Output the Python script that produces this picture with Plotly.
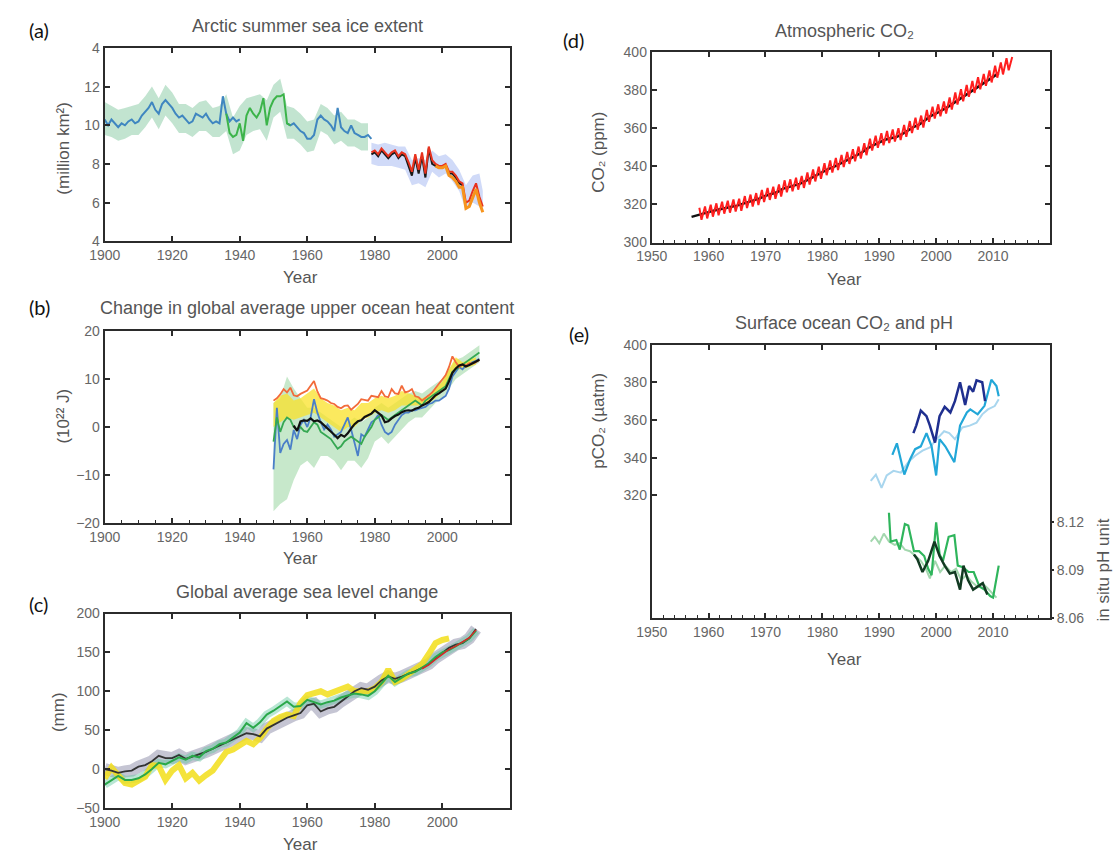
import plotly.graph_objects as go

W, H = 1113, 862
FONT = "Liberation Sans, Arial, sans-serif"
LETTER_FONT = "Lato, Noto Sans, sans-serif"
TICK_C = "#666666"
TITLE_C = "#555555"
AX_C = "#2b2b2b"

# ---------------- (a) Arctic summer sea ice extent ----------------
ice_years_early = list(range(1900, 1941))
ice_blue_early = [10.3, 10.0, 10.3, 10.1, 9.9, 10.1, 10.0, 10.2, 10.3, 10.1,
                  10.2, 10.5, 10.7, 10.9, 11.2, 10.8, 10.6, 11.1, 11.3, 11.1,
                  10.9, 10.6, 10.4, 10.5, 10.3, 10.1, 10.2, 10.6, 10.5, 10.4,
                  10.6, 10.3, 10.1, 10.2, 10.1, 11.5, 10.6, 10.2, 10.4, 10.2,
                  10.3]
ice_green_years = list(range(1936, 1956))
ice_green = [10.6, 9.6, 9.4, 9.5, 10.1, 9.2, 10.5, 10.9, 10.6, 10.4,
             10.7, 11.4, 10.0, 10.9, 11.3, 11.5, 11.5, 11.6, 10.1, 10.0]
ice_years_late = list(range(1954, 1980))
ice_blue_late = [10.1, 10.0, 10.1, 9.9, 9.7, 9.6, 9.3, 9.3, 9.5, 10.3,
                 10.5, 10.3, 10.2, 10.0, 9.7, 10.9, 9.9, 9.7, 9.6, 10.0,
                 9.6, 9.5, 9.4, 9.4, 9.5, 9.3]
ice_band_years = list(range(1900, 1980, 2))
ice_band_hi = [11.2, 11.0, 10.8, 10.9, 11.0, 11.1, 11.5, 12.0, 11.4, 12.1,
               11.7, 11.1, 11.1, 10.9, 11.2, 11.3, 10.9, 11.0, 11.6, 10.4,
               11.0, 11.4, 11.5, 11.6, 11.3, 12.1, 12.4, 11.0, 10.9, 10.6,
               10.2, 10.3, 11.1, 10.9, 10.5, 10.7, 10.3, 10.3, 10.1, 10.1]
ice_band_lo = [9.5, 9.4, 9.2, 9.3, 9.5, 9.5, 9.9, 10.4, 9.8, 10.5,
               10.1, 9.6, 9.6, 9.4, 9.7, 9.7, 9.4, 9.4, 9.7, 8.5,
               8.7, 9.5, 9.7, 9.8, 9.2, 10.4, 10.7, 9.3, 9.3, 9.0,
               8.6, 8.7, 9.7, 9.5, 9.0, 9.2, 8.9, 8.9, 8.7, 8.7]
ice_sat_years = list(range(1979, 2013))
ice_red = [8.6, 8.7, 8.5, 8.8, 8.6, 8.4, 8.6, 8.7, 8.4, 8.6,
           8.5, 8.1, 7.6, 8.5, 7.7, 8.6, 7.5, 8.9, 8.2, 8.0,
           7.9, 7.9, 8.0, 7.6, 7.6, 7.4, 7.1, 7.0, 6.0, 6.1,
           6.6, 7.0, 6.3, 5.8]
ice_black_years = list(range(1979, 2007))
ice_black = [8.5, 8.6, 8.4, 8.7, 8.5, 8.3, 8.5, 8.6, 8.3, 8.5,
             8.4, 7.9, 7.4, 8.3, 7.5, 8.4, 7.3, 8.8, 8.0, 7.9,
             7.8, 7.8, 7.9, 7.5, 7.5, 7.3, 7.0, 6.9]
ice_orange_years = list(range(1998, 2013))
ice_orange = [7.9, 7.8, 7.8, 7.9, 7.4, 7.3, 7.1, 6.8, 6.8, 5.7, 5.8, 6.3, 6.7, 6.0, 5.5]
ice_sat_band_years = list(range(1979, 2012, 2)) + [2012]
ice_sat_hi = [9.1, 9.0, 9.1, 9.0, 8.9, 8.9, 8.2, 8.3, 8.2, 8.7, 8.4, 8.5, 8.2, 7.7, 6.9, 7.4, 7.5, 6.6]
ice_sat_lo = [8.0, 7.9, 7.9, 7.9, 7.8, 7.7, 6.9, 7.0, 6.8, 7.6, 7.3, 7.5, 7.1, 6.6, 5.6, 6.0, 5.8, 5.5]

# ---------------- (b) Upper ocean heat content ----------------
ohc_years = list(range(1950, 2012))
ohc_orange = [5.5, 6.0, 6.8, 7.9, 7.2, 8.2, 6.6, 6.4, 6.9, 7.2,
              7.6, 8.6, 9.6, 7.4, 6.0, 5.8, 5.5, 5.0, 4.8, 4.2,
              3.9, 4.4, 4.5, 3.6, 4.2, 4.8, 5.8, 5.6, 5.5, 6.5,
              6.3, 6.2, 7.5, 6.4, 6.2, 7.9, 7.0, 6.9, 8.6, 7.2,
              7.4, 7.9, 6.4, 6.2, 5.5, 6.0, 6.6, 7.2, 8.2, 9.0,
              9.9, 10.8, 12.5, 14.7, 13.5, 12.5, 13.0, 12.8, 13.3, 13.2,
              13.5, 14.0]
ohc_black_years = list(range(1956, 2012))
ohc_black = [0.3, -0.8, 1.2, 1.4, 1.3, 1.8, 1.2, 1.4, 1.0, 0.4,
             -0.3, -0.8, -1.6, -2.3, -1.6, -2.0, -1.3, -0.3, 0.6, 1.2,
             1.4, 2.1, 2.4, 2.8, 3.5, 3.0, 2.4, 1.0, 1.2, 1.8,
             2.3, 2.6, 3.1, 3.4, 3.5, 3.4, 3.8, 4.0, 4.5, 4.8,
             5.2, 5.9, 6.6, 7.0, 7.5, 8.0, 9.5, 11.3, 12.2, 12.8,
             13.0, 12.6, 12.9, 13.3, 13.6, 14.0]
ohc_blue = [-8.8, 4.0, -5.4, -3.5, -2.7, -4.7, -0.6, -2.5, 0.5, 1.5,
            0.0, 2.0, 5.8, 3.0, 1.0, -0.5, 0.5, -0.5, -2.0, -1.5,
            -1.0, 0.5, 2.0, -0.5, -3.0, -6.0, -1.5, -2.0, -0.5, 1.0,
            1.5, 2.5, 0.5, -1.0, -1.5, -1.0, 0.5, 1.5, 2.5, 3.0,
            3.0, 3.5, 3.5, 3.8, 4.0, 4.2, 4.8, 5.0, 5.5, 5.5,
            6.0, 6.5, 8.0, 10.5, 11.5, 12.5, 12.0, 12.8, 13.0, 13.5,
            13.8, 14.2]
ohc_green = [-3.0, 2.0, -1.0, 1.0, 2.0, 1.5, 0.0, -0.5, 0.0, -0.8,
             -1.0, 0.0, 1.0, 0.5, -1.0, -1.5, -2.0, -2.5, -3.5, -4.5,
             -4.0, -3.0, -2.5, -2.0, -2.5, -3.0, -3.5, -2.0, -1.0, 0.0,
             1.5, 2.0, 2.5, 2.0, 1.5, 2.0, 2.5, 3.0, 3.5, 4.0,
             4.5, 5.0, 5.5, 5.0, 4.5, 5.5, 6.0, 6.5, 7.0, 7.5,
             8.0, 8.5, 10.0, 11.5, 12.0, 12.5, 13.0, 13.5, 14.0, 14.5,
             15.0, 15.5]
ohc_band_years = list(range(1950, 2011, 2)) + [2011]
ohc_green_hi = [5, 6, 10.5, 8, 6, 4, 4, 3, 2, 1, 0, 1, 2, 1, 2, 4,
                5, 4, 5, 6, 7, 7.5, 7, 8, 9, 10, 12, 14, 14.5, 15.5, 16.5, 17]
ohc_green_lo = [-17.5, -16, -15, -11, -8, -7, -8.5, -6, -6, -7, -9, -7, -7, -8.5, -6.5, -3,
                -2, -3.5, -2, -0.5, 1, 2, 2, 3.5, 5, 6, 8, 10, 11, 12, 13, 13.5]
ohc_yel_years = list(range(1950, 2011, 2))
ohc_yel_hi = [5, 6.5, 7, 5.5, 6, 7, 8, 6, 5, 4.5, 3.5, 4, 3.5, 5, 5, 6,
              6.5, 6, 6.5, 7.5, 7, 6.5, 6, 6.5, 8, 9.5, 12, 14.5, 13.5, 14, 14.5]
ohc_yel_lo = [0, 1, 2, 1.5, 2, 2.5, 3, 2, 1, 0, -1, 0, 0, 1.5, 2, 3,
              3.5, 3, 3.5, 4.5, 4.5, 4.5, 4.5, 5, 6, 7.5, 9.5, 12, 12, 12.5, 13]

# ---------------- (c) Global average sea level change ----------------
slr_years = list(range(1900, 2011, 2))
slr_green = [-20, -15, -9, -14, -14, -12, -7, 0, 8, 6,
             11, 15, 12, 17, 15, 23, 26, 32, 34, 40,
             47, 59, 53, 60, 70, 75, 81, 87, 80, 81,
             89, 86, 83, 86, 88, 92, 95, 97, 96, 94,
             100, 110, 120, 112, 117, 123, 125, 130, 136, 144,
             150, 153, 158, 162, 168, 178]
slr_black = [0, -2, -5, -3, -2, 3, 5, 10, 17, 14,
             14, 18, 13, 16, 18, 22, 26, 30, 33, 37,
             42, 46, 45, 42, 52, 57, 62, 66, 69, 72,
             82, 84, 74, 78, 80, 87, 94, 100, 104, 102,
             106, 114, 119, 116, 119, 122, 126, 130, 135, 143,
             150, 156, 160, 162, 168, 180]
slr_yel_years = list(range(1900, 2003, 2))
slr_yellow = [-12, 2, -8, -18, -20, -16, -10, 5, 4, -14,
              -2, 5, -12, -5, -15, -8, -2, 10, 22, 25,
              30, 36, 32, 40, 52, 62, 67, 70, 68, 85,
              95, 98, 100, 96, 100, 102, 106, 100, 100, 100,
              104, 112, 128, 112, 116, 122, 128, 135, 148, 162,
              166, 168]
slr_red_years = list(range(1994, 2011, 2))
slr_red = [129, 134, 141, 148, 154, 158, 163, 169, 179]

# ---------------- (d) Atmospheric CO2 ----------------
co2_peak_years = list(range(1958, 2014))
co2_peak = [318.3, 319.0, 319.9, 320.6, 321.5, 322.0, 322.6, 323.0, 324.4, 325.2,
            326.0, 327.6, 328.7, 329.3, 330.5, 332.7, 333.2, 334.1, 335.0, 336.8,
            338.4, 339.8, 341.7, 343.1, 344.4, 346.0, 347.6, 349.0, 350.4, 352.2,
            354.6, 356.1, 357.4, 358.6, 359.4, 360.1, 361.8, 363.8, 365.6, 366.7,
            369.7, 371.4, 372.6, 374.1, 376.2, 378.8, 380.5, 382.8, 384.9, 386.8,
            388.6, 390.4, 392.9, 394.6, 396.8, 397.5]
co2_trough_years = list(range(1958, 2013))
co2_trough = [312.0, 312.7, 313.6, 314.3, 315.2, 315.7, 316.3, 316.7, 318.1, 318.9,
              319.7, 321.3, 322.4, 323.0, 324.2, 326.4, 326.9, 327.8, 328.7, 330.5,
              332.1, 333.5, 335.4, 336.8, 338.1, 339.7, 341.3, 342.7, 344.1, 345.9,
              348.3, 349.8, 351.1, 352.3, 353.1, 353.8, 355.5, 357.5, 359.3, 360.4,
              363.4, 365.1, 366.3, 367.8, 369.9, 372.5, 374.2, 376.5, 378.6, 380.5,
              382.3, 384.1, 386.6, 388.3, 390.5]
co2_black_years = list(range(1957, 2012))
co2_black = [313.5, 314.2, 315.3, 316.0, 316.8, 317.6, 318.3, 318.8, 319.4, 320.4,
             321.2, 322.0, 323.2, 324.6, 325.4, 326.4, 328.2, 329.1, 330.0, 330.8,
             332.3, 333.9, 335.3, 337.0, 338.6, 339.8, 341.2, 342.9, 344.4, 345.8,
             347.4, 349.6, 351.2, 352.7, 354.0, 354.8, 355.4, 356.9, 358.7, 360.6,
             361.9, 364.4, 366.4, 367.8, 369.4, 371.1, 373.1, 375.1, 377.2, 379.4,
             381.3, 383.2, 385.0, 387.0, 389.0]

# ---------------- (e) Surface ocean CO2 and pH ----------------
pco2_light_years = [1988.5, 1989.4, 1990.4, 1991.3, 1992.5, 1993.8, 1995.1, 1996.3, 1997.6, 1998.9,
                    2000.1, 2001.4, 2002.3, 2003.3, 2004.6, 2005.9, 2007.1, 2008.1, 2009.1, 2010.3, 2011.0]
pco2_light = [327.7, 331, 324, 330.5, 333, 332, 337.6, 341, 343.7, 345.4,
              349.8, 354, 353, 349.8, 356, 357, 358.6, 363, 365.6, 367.4, 371]
pco2_cyan_years = [1992.3, 1993.1, 1994.4, 1995.4, 1996.3, 1997.3, 1998.3, 1999.2, 2000.0, 2000.6,
                   2001.6, 2002.6, 2003.2, 2004.2, 2005.4, 2006.0, 2007.3, 2008.5, 2009.7, 2010.6, 2011.0]
pco2_cyan = [341.5, 347.6, 331, 339, 344.5, 346, 353, 346, 330.5, 349.8,
             346, 341, 337.6, 357, 364, 365.6, 363, 367.5, 381.4, 378, 372.6]
pco2_navy_years = [1996.0, 1996.5, 1997.3, 1998.3, 1998.9, 1999.8, 2000.6, 2001.5, 2002.5,
                   2003.3, 2004.2, 2005.1, 2005.8, 2006.5, 2007.1, 2008.1, 2008.6]
pco2_navy = [353, 357, 365, 362, 357, 348, 362, 367, 364, 370, 380, 368, 378, 375, 381, 380, 370]
ph_light_years = [1988.5, 1989.2, 1990.0, 1990.8, 1991.7, 1992.7, 1993.6, 1994.5, 1995.4, 1996.4,
                  1997.3, 1998.2, 1998.9, 1999.8, 2000.7, 2001.6, 2002.6, 2003.5, 2004.4, 2005.3,
                  2006.2, 2007.2, 2008.1, 2009.0, 2010.0, 2010.6]
ph_light = [8.108, 8.111, 8.107, 8.113, 8.108, 8.106, 8.107, 8.103, 8.102, 8.099,
            8.096, 8.091, 8.085, 8.096, 8.089, 8.093, 8.089, 8.091, 8.084, 8.087,
            8.083, 8.080, 8.082, 8.079, 8.075, 8.073]
ph_mid_years = [1991.7, 1992.0, 1993.0, 1993.6, 1994.5, 1995.1, 1996.1, 1997.0, 1997.9, 1998.6,
                1999.2, 2000.0, 2000.6, 2001.2, 2002.2, 2003.2, 2003.8, 2004.7, 2005.7, 2006.6,
                2007.6, 2008.5, 2009.5, 2010.0, 2011.0]
ph_mid = [8.126, 8.108, 8.109, 8.103, 8.119, 8.118, 8.102, 8.102, 8.099, 8.091,
          8.087, 8.120, 8.100, 8.096, 8.111, 8.112, 8.093, 8.092, 8.089, 8.089,
          8.080, 8.078, 8.074, 8.073, 8.093]
ph_dark_years = [1996.1, 1996.7, 1997.6, 1998.6, 1999.7, 2000.6, 2001.5, 2002.4, 2003.3, 2004.2,
                 2004.8, 2005.6, 2006.5, 2007.4, 2008.2, 2009.0]
ph_dark = [8.100, 8.097, 8.089, 8.096, 8.108, 8.099, 8.093, 8.088, 8.089, 8.078,
           8.093, 8.084, 8.078, 8.080, 8.082, 8.075]

# tick labels
ice_ticks = [4, 6, 8, 10, 12, 14]
ice_ticktext = ["4", "6", "8", "10", "12", "4"]
year_ticks_long = [1900, 1920, 1940, 1960, 1980, 2000]
year_ticks_short = [1950, 1960, 1970, 1980, 1990, 2000, 2010]
pco2_ticks = [320, 340, 360, 380, 400]
ph_ticks = [8.06, 8.09, 8.12]

# ---------------- figure ----------------
fig = go.Figure()


def line(x, y, color, width, xa, ya):
    fig.add_trace(go.Scatter(x=x, y=y, mode="lines", xaxis=xa, yaxis=ya,
                             line=dict(color=color, width=width),
                             showlegend=False, hoverinfo="skip"))


def band(x, lo, hi, color, xa, ya):
    fig.add_trace(go.Scatter(x=list(x) + list(x)[::-1], y=list(hi) + list(lo)[::-1],
                             mode="lines", fill="toself", fillcolor=color,
                             line=dict(width=0), xaxis=xa, yaxis=ya,
                             showlegend=False, hoverinfo="skip"))


# (a)
band(ice_band_years, ice_band_lo, ice_band_hi, "rgba(120,195,150,0.45)", "x", "y")
band(ice_sat_band_years, ice_sat_lo, ice_sat_hi, "rgba(120,150,235,0.35)", "x", "y")
line(ice_years_early, ice_blue_early, "#3f86c0", 2, "x", "y")
line(ice_years_late, ice_blue_late, "#3f86c0", 2, "x", "y")
line(ice_green_years, ice_green, "#3cb44a", 2, "x", "y")
line(ice_black_years, ice_black, "#1a1a1a", 2, "x", "y")
line(ice_sat_years, ice_red, "#e8321e", 2, "x", "y")
line(ice_orange_years, ice_orange, "#f7941d", 3, "x", "y")

# (b)
band(ohc_band_years, ohc_green_lo, ohc_green_hi, "rgba(130,205,140,0.45)", "x2", "y2")
band(ohc_yel_years, ohc_yel_lo, ohc_yel_hi, "rgba(250,225,40,0.75)", "x2", "y2")
line(ohc_years, ohc_blue, "#4a7fc8", 1.8, "x2", "y2")
line(ohc_years, ohc_green, "#35a852", 1.8, "x2", "y2")
line(ohc_years, ohc_orange, "#f26b3a", 1.8, "x2", "y2")
line(ohc_black_years, ohc_black, "#111111", 2.2, "x2", "y2")

# (c)
line(slr_years, slr_black, "rgba(150,150,175,0.55)", 12, "x3", "y3")
line(slr_years, slr_green, "rgba(100,200,160,0.45)", 8, "x3", "y3")
line(slr_yel_years, slr_yellow, "rgba(242,222,25,0.85)", 6, "x3", "y3")
line(slr_years, slr_black, "#333333", 1.8, "x3", "y3")
line(slr_years, slr_green, "#2aa84a", 2, "x3", "y3")
line(slr_red_years, slr_red, "#d62728", 1.5, "x3", "y3")

# (d)  red: seasonal peaks and troughs interleaved
red_x, red_y = [], []
for i, yr in enumerate(co2_peak_years):
    red_x.append(yr + 0.37)
    red_y.append(co2_peak[i])
    if i < len(co2_trough):
        red_x.append(co2_trough_years[i] + 0.75)
        red_y.append(co2_trough[i])
line(co2_black_years, co2_black, "#111111", 2.5, "x4", "y4")
line(red_x, red_y, "#ff1f1f", 2, "x4", "y4")

# (e)
line(pco2_light_years, pco2_light, "#a9d6ee", 2, "x5", "y5")
line(pco2_cyan_years, pco2_cyan, "#22a7d8", 2.2, "x5", "y5")
line(pco2_navy_years, pco2_navy, "#1f2f8f", 2.5, "x5", "y5")
line(ph_light_years, ph_light, "#a3d7ae", 2, "x5", "y6")
line(ph_mid_years, ph_mid, "#2fb55c", 2.2, "x5", "y6")
line(ph_dark_years, ph_dark, "#123a22", 2.5, "x5", "y6")

# dummy traces to bind the minor-tick overlay axes
for xa, ya in (("x6", "y2"), ("x7", "y4"), ("x8", "y5")):
    fig.add_trace(go.Scatter(x=[None], y=[None], xaxis=xa, yaxis=ya,
                             mode="lines", showlegend=False, hoverinfo="skip"))


def dx(a, b):
    return [a / W, b / W]


def dy(top, bottom):
    return [1 - bottom / H, 1 - top / H]


def ax(dom, rng, **kw):
    d = dict(domain=dom, range=rng, showline=True, linewidth=2, linecolor=AX_C,
             mirror="ticks", ticks="inside", ticklen=5, tickwidth=1.5, tickcolor=AX_C,
             tickfont=dict(size=14, color=TICK_C, family=FONT),
             showgrid=False, zeroline=False, fixedrange=True)
    d.update(kw)
    return d


def minor(over, anchor, rng, tick0, dt):
    return dict(overlaying=over, anchor=anchor, side="bottom", range=rng,
                tick0=tick0, dtick=dt, ticks="inside", ticklen=3, tickwidth=1,
                tickcolor=AX_C, showticklabels=False, showline=False,
                showgrid=False, zeroline=False, fixedrange=True)


XL = dx(90, 501)
XR = dx(645, 1049)
fig.update_layout(
    width=W, height=H, margin=dict(l=0, r=0, t=0, b=0),
    paper_bgcolor="white", plot_bgcolor="white", showlegend=False,
    xaxis=ax(XL, [1900, 2020], anchor="y", tickvals=year_ticks_long),
    yaxis=ax(dy(40.7, 237.7), [4, 14], anchor="x", tickvals=ice_ticks, ticktext=ice_ticktext),
    xaxis2=ax(XL, [1900, 2020], anchor="y2", tickvals=year_ticks_long),
    yaxis2=ax(dy(329, 525), [-20, 20], anchor="x2", tickvals=[-20, -10, 0, 10, 20]),
    xaxis3=ax(XL, [1900, 2020], anchor="y3", tickvals=year_ticks_long),
    yaxis3=ax(dy(617, 815), [-50, 200], anchor="x3", tickvals=[-50, 0, 50, 100, 150, 200]),
    xaxis4=ax(XR, [1950, 2020], anchor="y4", tickvals=year_ticks_short),
    yaxis4=ax(dy(45, 239), [300, 400], anchor="x4", tickvals=[300, 320, 340, 360, 380, 400]),
    xaxis5=ax(XR, [1950, 2020], anchor="y5", tickvals=year_ticks_short),
    yaxis5=ax(dy(343, 622), [254.6, 400], anchor="x5", tickvals=pco2_ticks, mirror=True),
    yaxis6=dict(overlaying="y5", anchor="x5", side="right", range=[8.06, 8.231],
                tickvals=ph_ticks, ticktext=["8.06", "8.09", "8.12"],
                ticks="outside", ticklen=3, tickwidth=1.5, tickcolor=AX_C,
                tickfont=dict(size=14, color=TICK_C, family=FONT),
                showline=False, showgrid=False, zeroline=False, fixedrange=True),
    xaxis6=minor("x2", "y2", [1900, 2020], 1900, 5),
    xaxis7=minor("x4", "y4", [1950, 2020], 1950, 2),
    xaxis8=minor("x5", "y5", [1950, 2020], 1950, 2),
)


def ann(text, x, y, size, color, family=FONT, angle=0):
    return dict(text=text, x=x / W, y=1 - y / H, xref="paper", yref="paper",
                showarrow=False, xanchor="center", yanchor="middle",
                font=dict(size=size, color=color, family=family), textangle=angle)


annotations = [
    # panel letters
    ann("(a)", 23, 22, 20, "#111111", LETTER_FONT),
    ann("(b)", 24, 305, 20, "#111111", LETTER_FONT),
    ann("(c)", 23, 607, 20, "#111111", LETTER_FONT),
    ann("(d)", 566, 33, 20, "#111111", LETTER_FONT),
    ann("(e)", 571, 332, 20, "#111111", LETTER_FONT),
    # titles
    ann("Arctic summer sea ice extent", 296, 18, 18, TITLE_C),
    ann("Change in global average upper ocean heat content", 295, 306, 18, TITLE_C),
    ann("Global average sea level change", 295, 595, 18, TITLE_C),
    ann("Atmospheric CO₂", 841, 23, 18, TITLE_C),
    ann("Surface ocean CO₂ and pH", 840, 321, 18, TITLE_C),
    # y titles
    ann("(million km²)", 48, 143, 17, TITLE_C, angle=-90),
    ann("(10²² J)", 48, 416, 17, TITLE_C, angle=-90),
    ann("(mm)", 43, 717, 17, TITLE_C, angle=-90),
    ann("CO₂ (ppm)", 591, 147, 17, TITLE_C, angle=-90),
    ann("pCO₂ (µatm)", 591, 421, 17, TITLE_C, angle=-90),
    ann("in situ pH unit", 1103, 573, 17, TITLE_C, angle=-90),
    # x titles
    ann("Year", 289, 275, 17, TITLE_C),
    ann("Year", 289, 561, 17, TITLE_C),
    ann("Year", 289, 852, 17, TITLE_C),
    ann("Year", 841, 277, 17, TITLE_C),
    ann("Year", 841, 664, 17, TITLE_C),
]
fig.update_layout(annotations=annotations)

fig.write_html("out.html", config={"displayModeBar": False},
               post_script="document.body.style.margin='0';document.body.style.overflow='hidden';")
